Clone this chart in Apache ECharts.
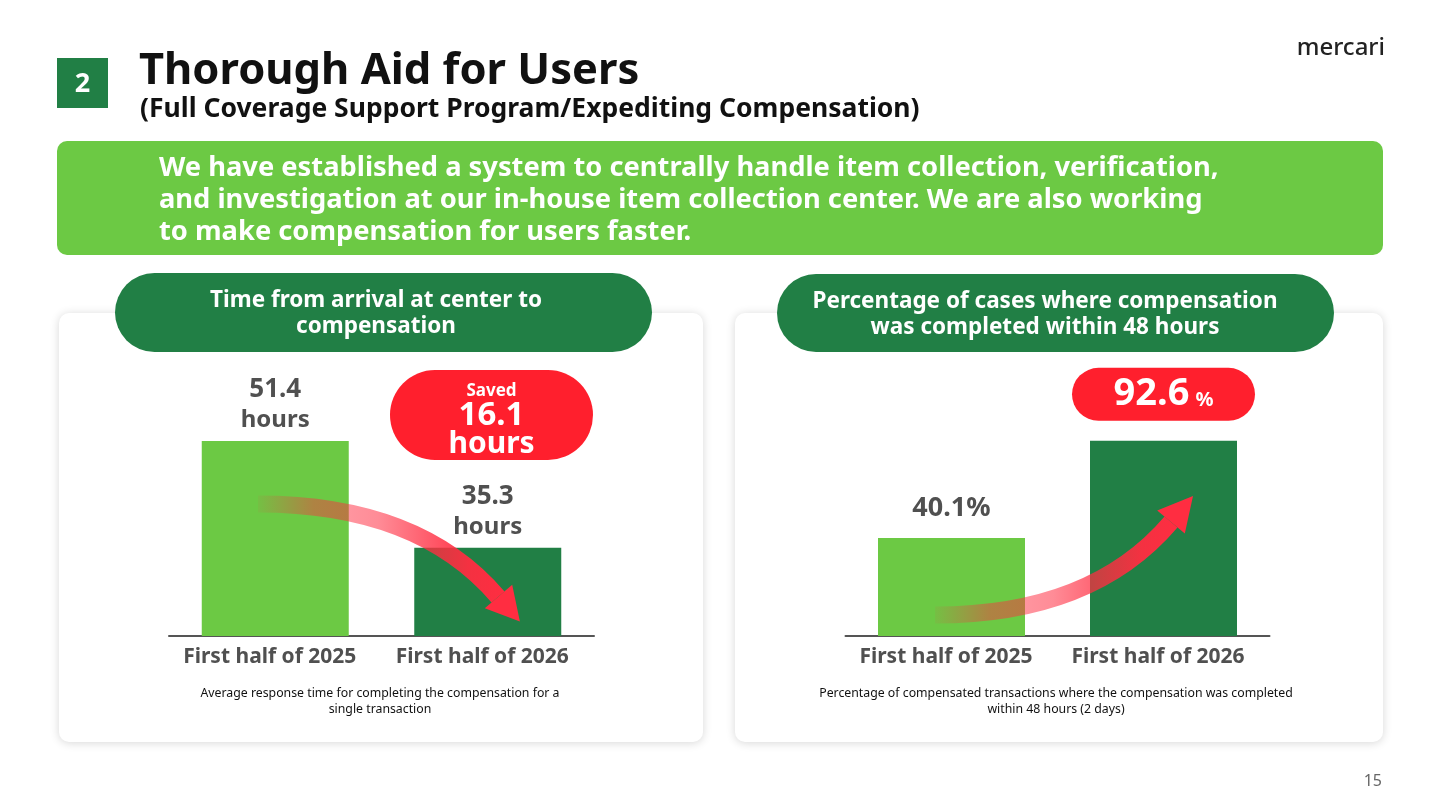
<!DOCTYPE html>
<html>
<head>
<meta charset="utf-8">
<script src="https://cdn.jsdelivr.net/npm/echarts@6/dist/echarts.min.js"></script>
<style>html,body{margin:0;padding:0;background:#fff;}#c{width:1440px;height:810px;}</style>
</head>
<body>
<div id="c"></div>
<script>
// ---- data ----
var categories = ['First half of 2025', 'First half of 2026'];
var hoursValues = [51.4, 35.3];
var hoursUnit = 'hours';
var pctValues = [40.1, 92.6];
var pctUnit = '%';
var leftTitle = ['Time from arrival at center to', 'compensation'];
var rightTitle = ['Percentage of cases where compensation', 'was completed within 48 hours'];
var leftNote = ['Average response time for completing the compensation for a', 'single transaction'];
var rightNote = ['Percentage of compensated transactions where the compensation was completed', 'within 48 hours (2 days)'];
var bannerLines = ['We have established a system to centrally handle item collection, verification,',
  'and investigation at our in-house item collection center. We are also working',
  'to make compensation for users faster.'];

var FONT = "'Noto Sans', 'DejaVu Sans', sans-serif";
var LIGHT = '#6CC944', DARK = '#217F45', RED = '#FF1F2D', GREY = '#505050';

var savedVal = (hoursValues[0] - hoursValues[1]).toFixed(1);

var chart = echarts.init(document.getElementById('c'), null, {renderer: 'canvas'});

function grad(stops) {
  return new echarts.graphic.LinearGradient(0, 0, 1, 0, stops);
}
var arrowStops = [
  {offset: 0, color: 'rgba(255,45,65,0)'},
  {offset: 0.25, color: 'rgba(255,45,65,0.45)'},
  {offset: 0.5, color: 'rgba(255,45,65,0.55)'},
  {offset: 0.85, color: 'rgba(255,45,65,0.95)'},
  {offset: 1, color: 'rgba(255,45,65,1)'}
];

var option = {
  backgroundColor: '#ffffff',
  animation: false,
  textStyle: {fontFamily: FONT},
  graphic: [
    // header
    {type: 'rect', z: 1, shape: {x: 57, y: 58, width: 51, height: 50}, style: {fill: DARK}},
    {type: 'text', z: 2, style: {x: 82.5, y: 84, text: '2', fill: '#fff', font: 'bold 27px ' + FONT, align: 'center', verticalAlign: 'middle'}},
    {type: 'text', z: 2, style: {x: 139, y: 72, text: 'Thorough Aid for Users', fill: '#111', font: 'bold 43.5px ' + FONT, verticalAlign: 'middle'}},
    {type: 'text', z: 2, style: {x: 140, y: 109, text: '(Full Coverage Support Program/Expediting Compensation)', fill: '#111', font: 'bold 26.5px ' + FONT, verticalAlign: 'middle'}},
    {type: 'text', z: 2, style: {x: 1385, y: 48, text: 'mercari', fill: '#222', font: '500 24px ' + FONT, align: 'right', verticalAlign: 'middle'}},
    {type: 'text', z: 2, style: {x: 1382, y: 781, text: '15', fill: '#666', font: '16px ' + FONT, align: 'right', verticalAlign: 'middle'}},
    // banner
    {type: 'rect', z: 1, shape: {x: 57, y: 141, width: 1326, height: 114, r: 10}, style: {fill: LIGHT}},
    {type: 'text', z: 2, style: {x: 159, y: 200, text: bannerLines.join('\n'), fill: '#fff', font: 'bold 27.3px ' + FONT, lineHeight: 32, verticalAlign: 'middle'}},
    // cards
    {type: 'rect', z: 0, shape: {x: 59, y: 313, width: 644, height: 429, r: 10}, style: {fill: '#fff', shadowBlur: 10, shadowColor: 'rgba(0,0,0,0.16)', shadowOffsetY: 1}},
    {type: 'rect', z: 0, shape: {x: 735, y: 313, width: 648, height: 429, r: 10}, style: {fill: '#fff', shadowBlur: 10, shadowColor: 'rgba(0,0,0,0.16)', shadowOffsetY: 1}},
    // pill headers
    {type: 'rect', z: 1, shape: {x: 115, y: 273, width: 537, height: 79, r: 39.5}, style: {fill: DARK}},
    {type: 'text', z: 2, style: {x: 376, y: 314, text: leftTitle.join('\n'), fill: '#fff', font: 'bold 22.5px ' + FONT, lineHeight: 26, align: 'center', verticalAlign: 'middle'}},
    {type: 'rect', z: 1, shape: {x: 777, y: 274, width: 557, height: 78, r: 39}, style: {fill: DARK}},
    {type: 'text', z: 2, style: {x: 1045, y: 315, text: rightTitle.join('\n'), fill: '#fff', font: 'bold 22.5px ' + FONT, lineHeight: 26, align: 'center', verticalAlign: 'middle'}},
    // notes
    {type: 'text', z: 2, style: {x: 380, y: 701, text: leftNote.join('\n'), fill: '#111', font: '12.3px ' + FONT, lineHeight: 16, align: 'center', verticalAlign: 'middle'}},
    {type: 'text', z: 2, style: {x: 1056, y: 701, text: rightNote.join('\n'), fill: '#111', font: '12.3px ' + FONT, lineHeight: 16, align: 'center', verticalAlign: 'middle'}},
    // saved pill
    {type: 'rect', z: 3, shape: {x: 390, y: 370, width: 203, height: 90, r: 45}, style: {fill: RED}},
    {type: 'text', z: 4, style: {x: 491.5, y: 419, text: '{s|Saved}\n{n|' + savedVal + '}\n{h|' + hoursUnit + '}', align: 'center', verticalAlign: 'middle',
      rich: {s: {fill: '#fff', font: 'bold 17px ' + FONT, lineHeight: 22, align: 'center'},
             n: {fill: '#fff', font: 'bold 33px ' + FONT, lineHeight: 28, align: 'center'},
             h: {fill: '#fff', font: 'bold 30px ' + FONT, lineHeight: 28, align: 'center'}}}},
    // arrows
    {type: 'bezierCurve', z: 20, shape: {x1: 258, y1: 504, cpx1: 419, cpy1: 504, x2: 498, y2: 597}, style: {fill: null, stroke: grad(arrowStops), lineWidth: 17}},
    {type: 'polygon', z: 20, shape: {points: [[519.9, 621.6], [512.2, 584.8], [484.8, 608.2]]}, style: {fill: 'rgb(255,45,65)'}},
    {type: 'bezierCurve', z: 20, shape: {x1: 935, y1: 615, cpx1: 1092, cpy1: 615, x2: 1171, y2: 522}, style: {fill: null, stroke: grad(arrowStops), lineWidth: 17}},
    {type: 'polygon', z: 20, shape: {points: [[1193, 496], [1184.8, 533.6], [1157.2, 510.4]]}, style: {fill: 'rgb(255,45,65)'}}
  ],
  grid: [
    {left: 169, width: 425, top: 384, height: 252},
    {left: 845.5, width: 424, top: 390, height: 246}
  ],
  xAxis: [0, 1].map(function (i) {
    return {
      type: 'category', gridIndex: i, data: categories,
      axisLine: {onZero: false, lineStyle: {color: '#555', width: 2}},
      axisTick: {show: false},
      axisLabel: {interval: 0, hideOverlap: false, color: GREY, fontSize: 21, fontWeight: 'bold', margin: 11,
        padding: [0, 11, 0, 0], fontFamily: FONT}
    };
  }),
  yAxis: [
    {type: 'value', gridIndex: 0, min: 22, max: 60, show: false, splitLine: {show: false}},
    {type: 'log', gridIndex: 1, min: 17.2, max: 143.6, show: false, splitLine: {show: false}}
  ],
  series: [
    {
      type: 'bar', xAxisIndex: 0, yAxisIndex: 0, barWidth: 147,
      data: hoursValues.map(function (v, i) {
        return {value: v, itemStyle: {color: i === 0 ? LIGHT : DARK}};
      }),
      label: {
        show: true, position: 'top', distance: 5,
        formatter: function (p) { return '{v|' + p.value + '}\n{u|' + hoursUnit + '}'; },
        rich: {v: {color: GREY, fontSize: 26, fontWeight: 'bold', lineHeight: 31, fontFamily: FONT},
               u: {color: GREY, fontSize: 24, fontWeight: 'bold', lineHeight: 31, fontFamily: FONT}}
      }
    },
    {
      type: 'bar', xAxisIndex: 1, yAxisIndex: 1, barWidth: 147,
      data: pctValues.map(function (v, i) {
        if (i === 0) {
          return {value: v, itemStyle: {color: LIGHT},
            label: {show: true, position: 'top', distance: 16,
              formatter: function (p) { return '{v|' + p.value + pctUnit + '}'; },
              rich: {v: {color: GREY, fontSize: 27, fontWeight: 'bold', fontFamily: FONT}}}};
        }
        return {value: v, itemStyle: {color: DARK},
          label: {show: true, position: 'top', distance: 20,
            width: 183, height: 53, padding: 0, backgroundColor: RED, borderRadius: 26.5, align: 'center',
            formatter: function (p) { return '{a|' + p.value + '}{b|' + pctUnit + '}'; },
            rich: {a: {color: '#fff', fontSize: 38, fontWeight: 'bold', fontFamily: FONT, lineHeight: 53},
                   b: {color: '#fff', fontSize: 20, fontWeight: 'bold', fontFamily: FONT, lineHeight: 53, verticalAlign: 'middle', padding: [12, 0, 0, 6]}}}};
      })
    }
  ]
};
chart.setOption(option);
</script>
</body>
</html>
